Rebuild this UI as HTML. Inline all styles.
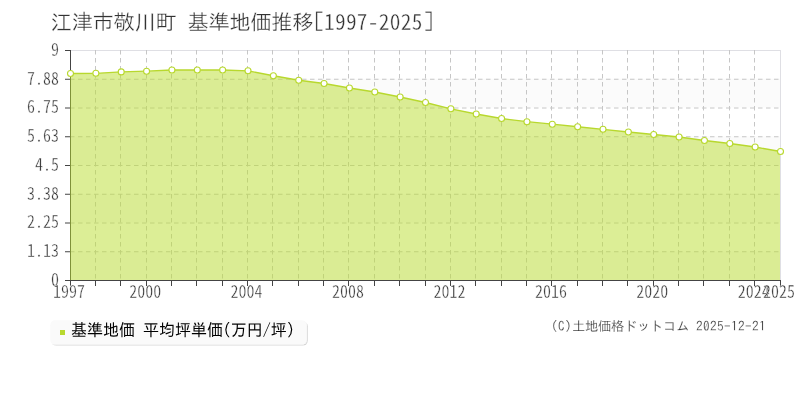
<!DOCTYPE html>
<html lang="ja"><head><meta charset="utf-8"><title>江津市敬川町 基準地価推移[1997-2025]</title>
<style>
html,body{margin:0;padding:0;background:#fff;}
body{width:800px;height:400px;overflow:hidden;position:relative;font-family:"IPAGothic","Liberation Sans",sans-serif;}
svg{position:absolute;left:0;top:0;display:block;will-change:transform;}
svg text{font-family:"IPAGothic","Liberation Sans",sans-serif;}
.t{stroke:#fff;stroke-width:0.3px;}
svg .n,svg .n text{font-family:"Noto Sans Mono CJK JP","IPAGothic","Liberation Mono",monospace;stroke:#fff;stroke-width:0.35px;}
</style></head><body>
<svg width="800" height="400" viewBox="0 0 800 400">
<defs><filter id="sh" x="-5%" y="-20%" width="110%" height="160%"><feGaussianBlur in="SourceAlpha" stdDeviation="0.7"/><feOffset dx="0.8" dy="1"/><feComponentTransfer><feFuncA type="linear" slope="0.16"/></feComponentTransfer><feMerge><feMergeNode/><feMergeNode in="SourceGraphic"/></feMerge></filter></defs>
<rect width="800" height="400" fill="#fff"/>
<rect x="70" y="78.75" width="710" height="28.75" fill="#fbfbfb"/>
<rect x="70" y="136.25" width="710" height="28.75" fill="#fbfbfb"/>
<rect x="70" y="193.75" width="710" height="28.75" fill="#fbfbfb"/>
<rect x="70" y="251.25" width="710" height="28.75" fill="#fbfbfb"/>
<path d="M70 50.5H781M780.5 50V280" fill="none" stroke="#dfdfe4" stroke-width="1"/>
<path d="M70 79.25H780M70 108.00H780M70 136.75H780M70 165.50H780M70 194.25H780M70 223.00H780M70 251.75H780M95.5 50V280M120.5 50V280M146.5 50V280M171.5 50V280M196.5 50V280M222.5 50V280M247.5 50V280M272.5 50V280M298.5 50V280M323.5 50V280M348.5 50V280M374.5 50V280M399.5 50V280M425.5 50V280M450.5 50V280M475.5 50V280M501.5 50V280M526.5 50V280M551.5 50V280M577.5 50V280M602.5 50V280M627.5 50V280M653.5 50V280M678.5 50V280M703.5 50V280M729.5 50V280M754.5 50V280" fill="none" stroke="#c6c6c6" stroke-width="1" stroke-dasharray="4.5 3.5"/>
<path d="M70.5 50V281M65 280.5H781M65 50.50H70M65 79.25H70M65 108.00H70M65 136.75H70M65 165.50H70M65 194.25H70M65 223.00H70M65 251.75H70M70.5 281V286M95.5 281V286M120.5 281V286M146.5 281V286M171.5 281V286M196.5 281V286M222.5 281V286M247.5 281V286M272.5 281V286M298.5 281V286M323.5 281V286M348.5 281V286M374.5 281V286M399.5 281V286M425.5 281V286M450.5 281V286M475.5 281V286M501.5 281V286M526.5 281V286M551.5 281V286M577.5 281V286M602.5 281V286M627.5 281V286M653.5 281V286M678.5 281V286M703.5 281V286M729.5 281V286M754.5 281V286M780.5 281V286" fill="none" stroke="#444" stroke-width="1"/>
<polygon points="70,280 70,73.5 70.50,73.50 95.86,73.30 121.21,71.90 146.57,71.20 171.93,70.00 197.29,70.00 222.64,70.00 248.00,70.80 273.36,75.75 298.71,80.25 324.07,83.50 349.43,88.00 374.79,92.00 400.14,97.00 425.50,102.50 450.86,108.80 476.21,114.00 501.57,118.50 526.93,121.70 552.29,124.20 577.64,126.75 603.00,129.30 628.36,132.00 653.71,134.50 679.07,137.00 704.43,140.50 729.79,143.50 755.14,147.00 780,151.5 780,280" fill="#b9dd2d" fill-opacity="0.5"/>
<polyline points="70.50,73.50 95.86,73.30 121.21,71.90 146.57,71.20 171.93,70.00 197.29,70.00 222.64,70.00 248.00,70.80 273.36,75.75 298.71,80.25 324.07,83.50 349.43,88.00 374.79,92.00 400.14,97.00 425.50,102.50 450.86,108.80 476.21,114.00 501.57,118.50 526.93,121.70 552.29,124.20 577.64,126.75 603.00,129.30 628.36,132.00 653.71,134.50 679.07,137.00 704.43,140.50 729.79,143.50 755.14,147.00 780.50,151.50" fill="none" stroke="#b8d82e" stroke-width="1.3" stroke-linejoin="round"/>
<circle cx="70.50" cy="73.50" r="3" fill="#fff" stroke="#b8d82e" stroke-width="1.1"/><circle cx="95.86" cy="73.30" r="3" fill="#fff" stroke="#b8d82e" stroke-width="1.1"/><circle cx="121.21" cy="71.90" r="3" fill="#fff" stroke="#b8d82e" stroke-width="1.1"/><circle cx="146.57" cy="71.20" r="3" fill="#fff" stroke="#b8d82e" stroke-width="1.1"/><circle cx="171.93" cy="70.00" r="3" fill="#fff" stroke="#b8d82e" stroke-width="1.1"/><circle cx="197.29" cy="70.00" r="3" fill="#fff" stroke="#b8d82e" stroke-width="1.1"/><circle cx="222.64" cy="70.00" r="3" fill="#fff" stroke="#b8d82e" stroke-width="1.1"/><circle cx="248.00" cy="70.80" r="3" fill="#fff" stroke="#b8d82e" stroke-width="1.1"/><circle cx="273.36" cy="75.75" r="3" fill="#fff" stroke="#b8d82e" stroke-width="1.1"/><circle cx="298.71" cy="80.25" r="3" fill="#fff" stroke="#b8d82e" stroke-width="1.1"/><circle cx="324.07" cy="83.50" r="3" fill="#fff" stroke="#b8d82e" stroke-width="1.1"/><circle cx="349.43" cy="88.00" r="3" fill="#fff" stroke="#b8d82e" stroke-width="1.1"/><circle cx="374.79" cy="92.00" r="3" fill="#fff" stroke="#b8d82e" stroke-width="1.1"/><circle cx="400.14" cy="97.00" r="3" fill="#fff" stroke="#b8d82e" stroke-width="1.1"/><circle cx="425.50" cy="102.50" r="3" fill="#fff" stroke="#b8d82e" stroke-width="1.1"/><circle cx="450.86" cy="108.80" r="3" fill="#fff" stroke="#b8d82e" stroke-width="1.1"/><circle cx="476.21" cy="114.00" r="3" fill="#fff" stroke="#b8d82e" stroke-width="1.1"/><circle cx="501.57" cy="118.50" r="3" fill="#fff" stroke="#b8d82e" stroke-width="1.1"/><circle cx="526.93" cy="121.70" r="3" fill="#fff" stroke="#b8d82e" stroke-width="1.1"/><circle cx="552.29" cy="124.20" r="3" fill="#fff" stroke="#b8d82e" stroke-width="1.1"/><circle cx="577.64" cy="126.75" r="3" fill="#fff" stroke="#b8d82e" stroke-width="1.1"/><circle cx="603.00" cy="129.30" r="3" fill="#fff" stroke="#b8d82e" stroke-width="1.1"/><circle cx="628.36" cy="132.00" r="3" fill="#fff" stroke="#b8d82e" stroke-width="1.1"/><circle cx="653.71" cy="134.50" r="3" fill="#fff" stroke="#b8d82e" stroke-width="1.1"/><circle cx="679.07" cy="137.00" r="3" fill="#fff" stroke="#b8d82e" stroke-width="1.1"/><circle cx="704.43" cy="140.50" r="3" fill="#fff" stroke="#b8d82e" stroke-width="1.1"/><circle cx="729.79" cy="143.50" r="3" fill="#fff" stroke="#b8d82e" stroke-width="1.1"/><circle cx="755.14" cy="147.00" r="3" fill="#fff" stroke="#b8d82e" stroke-width="1.1"/><circle cx="780.50" cy="151.50" r="3" fill="#fff" stroke="#b8d82e" stroke-width="1.1"/>
<g class="n" font-size="16" text-anchor="end" fill="#333"><text transform="translate(59,55.80) scale(1,1.07)">9</text><text transform="translate(59,84.55) scale(1,1.07)">7.88</text><text transform="translate(59,113.30) scale(1,1.07)">6.75</text><text transform="translate(59,142.05) scale(1,1.07)">5.63</text><text transform="translate(59,170.80) scale(1,1.07)">4.5</text><text transform="translate(59,199.55) scale(1,1.07)">3.38</text><text transform="translate(59,228.30) scale(1,1.07)">2.25</text><text transform="translate(59,257.05) scale(1,1.07)">1.13</text><text transform="translate(59,285.80) scale(1,1.07)">0</text></g>
<g class="n" font-size="16" text-anchor="middle" fill="#333"><text transform="translate(69.10,298.1) scale(1,1.11)">1997</text><text transform="translate(145.17,298.1) scale(1,1.11)">2000</text><text transform="translate(246.60,298.1) scale(1,1.11)">2004</text><text transform="translate(348.03,298.1) scale(1,1.11)">2008</text><text transform="translate(449.46,298.1) scale(1,1.11)">2012</text><text transform="translate(550.89,298.1) scale(1,1.11)">2016</text><text transform="translate(652.31,298.1) scale(1,1.11)">2020</text><text transform="translate(753.74,298.1) scale(1,1.11)">2024</text><text transform="translate(779.10,298.1) scale(1,1.11)">2025</text></g>
<text class="t" x="50.5" y="29.7" font-size="21.33" fill="#333"><tspan letter-spacing="-0.33">江津市敬川町</tspan><tspan letter-spacing="0.33"> </tspan><tspan letter-spacing="-0.33">基準地価推移</tspan><tspan letter-spacing="0.33">[</tspan><tspan class="n" letter-spacing="0.33" dx="-0.6">1997-2025</tspan><tspan letter-spacing="0.33" dx="0.6">]</tspan></text>
<rect x="50.2" y="320.2" width="256.6" height="24.4" rx="5" ry="5" fill="#fafafa" filter="url(#sh)"/>
<rect x="60" y="330" width="5" height="5" fill="#b8d82e"/>
<text transform="translate(71,336.3) scale(1.0,1.05)" font-size="16" fill="#000">基準地価 平均坪単価(万円/坪)</text>
<text class="t" x="551" y="331.2" font-size="13.33" fill="#333" style="stroke-width:0.2px"><tspan letter-spacing="0.33">(C)</tspan><tspan letter-spacing="-0.33">土地価格ドットコム</tspan><tspan letter-spacing="0.33"> 2025-12-21</tspan></text>
</svg>
</body></html>
